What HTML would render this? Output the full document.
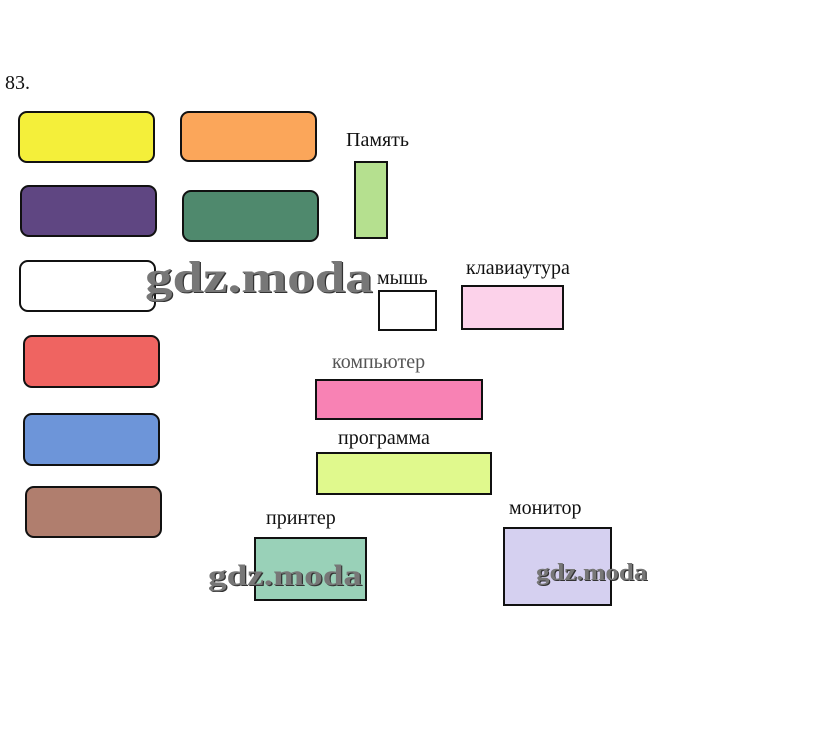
<!DOCTYPE html>
<html><head><meta charset="utf-8"><style>
body{margin:0;width:815px;height:736px;background:#fff;position:relative;overflow:hidden;font-family:"Liberation Serif","DejaVu Serif",serif;}
.b{position:absolute;box-sizing:border-box;border:2px solid #111;}
.r{border-radius:9px;}
.t{position:absolute;font-size:20px;color:#111;white-space:nowrap;line-height:1;}
.w{position:absolute;font-size:44px;font-weight:bold;color:#777;line-height:1;white-space:nowrap;text-shadow:1px 1px 0 #333;transform-origin:0 0;}
</style></head><body>
<div class="t" style="left:5px;top:73px;">83.</div>
<div class="b r" style="left:18px;top:111px;width:137px;height:52px;background:#f4ef3a"></div>
<div class="b r" style="left:180px;top:111px;width:137px;height:51px;background:#fba65a"></div>
<div class="b r" style="left:20px;top:185px;width:137px;height:52px;background:#5f4682"></div>
<div class="b r" style="left:182px;top:190px;width:137px;height:52px;background:#4f896d"></div>
<div class="b r" style="left:19px;top:260px;width:137px;height:52px;background:#fff"></div>
<div class="b r" style="left:23px;top:335px;width:137px;height:53px;background:#ef6461"></div>
<div class="b r" style="left:23px;top:413px;width:137px;height:53px;background:#6d95d9"></div>
<div class="b r" style="left:25px;top:486px;width:137px;height:52px;background:#b07e6e"></div>

<div class="t" style="left:346px;top:130px;">Память</div>
<div class="b" style="left:354px;top:161px;width:34px;height:78px;background:#b5e08f"></div>

<div class="t" style="left:377px;top:268px;">мышь</div>
<div class="b" style="left:378px;top:290px;width:59px;height:41px;background:#fff"></div>

<div class="t" style="left:466px;top:258px;">клавиаутура</div>
<div class="b" style="left:461px;top:285px;width:103px;height:45px;background:#fcd2ea"></div>

<div class="t" style="left:332px;top:352px;color:#555">компьютер</div>
<div class="b" style="left:315px;top:379px;width:168px;height:41px;background:#f882b4"></div>

<div class="t" style="left:338px;top:428px;">программа</div>
<div class="b" style="left:316px;top:452px;width:176px;height:43px;background:#e0f98d"></div>

<div class="t" style="left:266px;top:508px;">принтер</div>
<div class="b" style="left:254px;top:537px;width:113px;height:64px;background:#99d1b8"></div>

<div class="t" style="left:509px;top:498px;">монитор</div>
<div class="b" style="left:503px;top:527px;width:109px;height:79px;background:#d5d0f0"></div>

<div class="w" style="left:145px;top:256px;transform:scaleX(1.25);">gdz.moda</div>
<div class="w" style="left:208px;top:561px;font-size:30px;transform:scaleX(1.24);">gdz.moda</div>
<div class="w" style="left:536px;top:561px;font-size:24px;transform:scaleX(1.12);">gdz.moda</div>
</body></html>
